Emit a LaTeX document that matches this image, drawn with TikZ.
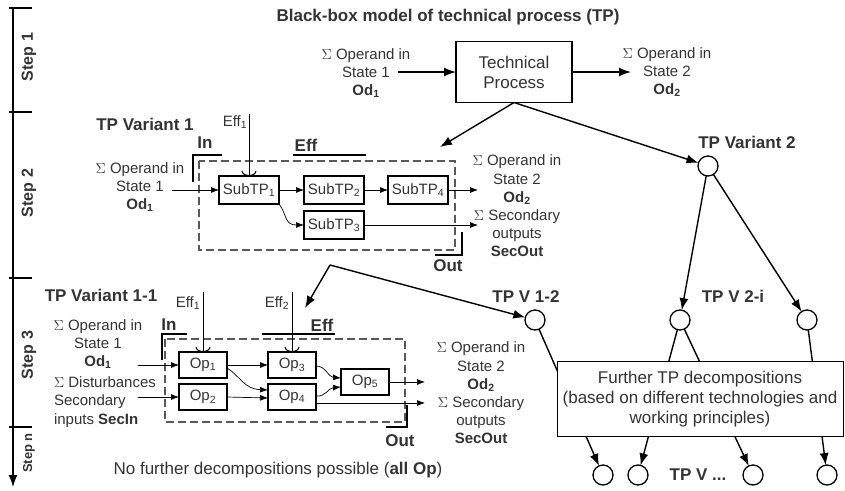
\documentclass[tikz,border=0pt]{standalone}
\usepackage{fontspec}
\setmainfont{Liberation Sans}
\usetikzlibrary{arrows.meta}

\begin{document}
\begin{tikzpicture}[x=1pt, y=-1pt,
  >={Latex[length=12pt,width=9pt]}, %
  inner sep=1pt, outer sep=0pt,%
  every node/.style={text=black!80, font=\fontsize{15}{18.2}\selectfont},
  title node/.style={font=\bfseries\fontsize{17}{19}\selectfont},
  big text/.style={font=\fontsize{17}{20}\selectfont},
  flow/.style={line width=1.4pt,->},
  thin flow/.style={line width=0.7pt,-{Latex[length=8pt,width=6pt]}},
  effect/.style={line width=0.7pt,-{Arc Barb[length=5pt,width=15pt,line width=1pt]}},
  process/.style={draw=black,line width=1.6pt,minimum width=116pt,minimum height=61pt,align=center,big text},
  subprocess/.style={draw=black,line width=1.3pt,minimum width=60pt,minimum height=28pt},
  operation/.style={draw=black,line width=1.3pt,minimum width=48pt,minimum height=26pt},
  variant/.style={circle,draw=black,line width=1.3pt,minimum size=20pt},
  system border/.style={draw=black!65,line width=1.1pt,dash pattern=on 8pt off 4pt},
  bracket/.style={line width=1.8pt}]

\useasboundingbox (0,0) rectangle (845,490);

\draw[line width=1.3pt,->] (13,8) -- (13,487);
\draw[line width=2pt] (9,8) -- (32,8);
\draw[line width=2pt] (9,112) -- (32,112);
\draw[line width=2pt] (9,278) -- (32,278);
\draw[line width=2pt] (9,427) -- (32,427);

\node[title node,font=\bfseries\fontsize{16}{18}\selectfont,rotate=90] (step 1) at (29,57) {Step 1};
\node[title node,font=\bfseries\fontsize{16}{18}\selectfont,rotate=90] (step 2) at (29,193) {Step 2};
\node[title node,font=\bfseries\fontsize{16}{18}\selectfont,rotate=90] (step 3) at (29,355) {Step 3};
\node[rotate=90,font=\bfseries\fontsize{13}{15}\selectfont] (step n) at (29,453) {Step n};

\node[title node] (title) at (448,17) {Black-box model of technical process (TP)};

\node[process] (tp) at (514,72) {Technical\\Process};
\node[align=center] (od1 a) at (366,73) {$\Sigma$ Operand in\\State 1\\\textbf{Od\textsubscript{1}}};
\node[align=center] (od2 a) at (667,72) {$\Sigma$ Operand in\\State 2\\\textbf{Od\textsubscript{2}}};
\coordinate (od1 a start) at (398,72);
\coordinate (od2 a end) at (631,72);
\draw[flow] (od1 a start) -- (tp.west);
\draw[flow] (tp.east) -- (od2 a end);

\coordinate (v1 tip) at (440,147);
\node[variant] (v2) at (708,166) {};
\node[title node] (v2 label) at (747,142) {TP Variant 2};
\draw[flow] (tp.south) -- (v1 tip);
\draw[flow] (tp.south) -- (v2);

\node[title node] (v1 label) at (145,124) {TP Variant 1};
\draw[system border] (199,161) rectangle (455,250);
\node[title node] (in b) at (205,143) {In};
\node[title node] (eff b) at (306,145) {Eff};
\node[title node] (out b) at (448,266) {Out};
\draw[bracket] (222,155) -- (193,155) -- (193,182);
\draw[bracket] (293,155) -- (366,155);
\draw[bracket] (435,255) -- (462,255) -- (462,232);

\node[subprocess] (s1) at (249,190) {SubTP\textsubscript{1}};
\node[subprocess] (s2) at (334,190) {SubTP\textsubscript{2}};
\node[subprocess] (s4) at (418,190) {SubTP\textsubscript{4}};
\node[subprocess] (s3) at (334,225) {SubTP\textsubscript{3}};

\node (eff1 b) at (235,122) {Eff\textsubscript{1}};
\coordinate (eff1 b top) at (249,114);
\draw[effect] (eff1 b top) -- (s1.north);

\node[align=center] (od1 b) at (140,187) {$\Sigma$ Operand in\\State 1\\\textbf{Od\textsubscript{1}}};
\node[align=center] (out text b) at (517,206) {$\Sigma$ Operand in\\State 2\\\textbf{Od\textsubscript{2}}\\$\Sigma$ Secondary\\outputs\\\textbf{SecOut}};
\coordinate (od1 b start) at (172,190);
\coordinate (od2 b end) at (478,190);
\coordinate (sec b end) at (478,225);

\draw[thin flow] (od1 b start) -- (s1.west);
\draw[thin flow] (s1.east) -- (s2.west);
\draw[thin flow] (s2.east) -- (s4.west);
\draw[thin flow] (s4.east) -- (od2 b end);
\draw[thin flow] (s1.south east) .. controls (287,214) and (284,225) .. (s3.west);
\draw[thin flow] (s3.east) -- (sec b end);

\coordinate (v1 split) at (330,265);
\coordinate (v11 tip) at (305,308);
\node[variant] (v12) at (535,320) {};
\node[title node] (v12 label) at (526,297) {TP V 1-2};
\draw[flow] (v1 split) -- (v11 tip);
\draw[flow] (v1 split) -- (v12);

\node[title node] (v11 label) at (101,295) {TP Variant 1-1};
\draw[system border] (165,339) rectangle (405,422);
\node[title node] (in c) at (169,325) {In};
\node[title node] (eff c) at (322,325) {Eff};
\node[title node] (out c) at (400,441) {Out};
\draw[bracket] (187,334) -- (162,334) -- (162,360);
\draw[bracket] (262,334) -- (335,334);
\draw[bracket] (386,427) -- (407,427) -- (407,405);

\node[operation] (op1) at (203,365) {Op\textsubscript{1}};
\node[operation] (op2) at (203,397) {Op\textsubscript{2}};
\node[operation] (op3) at (292,365) {Op\textsubscript{3}};
\node[operation] (op4) at (292,397) {Op\textsubscript{4}};
\node[operation] (op5) at (365,382) {Op\textsubscript{5}};

\node (eff1 c) at (188,303) {Eff\textsubscript{1}};
\node (eff2 c) at (277,303) {Eff\textsubscript{2}};
\coordinate (eff1 c top) at (203,292);
\coordinate (eff2 c top) at (292,292);
\draw[effect] (eff1 c top) -- (op1.north);
\draw[effect] (eff2 c top) -- (op3.north);

\node[align=center] (od1 c) at (98,344) {$\Sigma$ Operand in\\State 1\\\textbf{Od\textsubscript{1}}};
\node[align=left,anchor=west] (secin c) at (53,402) {$\Sigma$ Disturbances\\Secondary\\inputs \textbf{SecIn}};
\node[align=center] (out text c) at (481,393) {$\Sigma$ Operand in\\State 2\\\textbf{Od\textsubscript{2}}\\$\Sigma$ Secondary\\outputs\\\textbf{SecOut}};
\coordinate (od1 c start) at (138,365);
\coordinate (secin c start) at (138,397);
\coordinate (od2 c end) at (425,382);
\coordinate (sec c end) at (425,403);

\draw[thin flow] (od1 c start) -- (op1.west);
\draw[thin flow] (secin c start) -- (op2.west);
\draw[thin flow] (op1.east) -- (op3.west);
\draw[thin flow] ([yshift=-3pt]op1.east) .. controls (240,376) and (244,389) .. ([yshift=7pt]op4.west);
\draw[thin flow] (op2.east) -- ([yshift=-1pt]op4.west);
\draw[thin flow] ([yshift=-1pt]op3.east) .. controls (326,366) and (328,377) .. ([yshift=4pt]op5.west);
\draw[thin flow] ([yshift=1pt]op4.east) .. controls (326,397) and (328,388) .. ([yshift=-5pt]op5.west);
\draw[thin flow] (op5.east) -- (od2 c end);
\draw[thin flow] ([yshift=-6pt]op4.east) -- (sec c end);

\node[big text] (no further) at (278,470) {No further decompositions possible (\textbf{all Op})};

\node[variant] (v2i) at (680,320) {};
\node[variant] (v2j) at (807,320) {};
\node[title node] (v2i label) at (733,296) {TP V 2-i};
\draw[flow] (v2) -- (v2i);
\draw[flow] (v2) -- (v2j);

\node[variant] (b1) at (603,475) {};
\node[variant] (b2) at (638,475) {};
\node[variant] (b3) at (753,475) {};
\node[variant] (b4) at (827,475) {};
\node[title node] (b label) at (698,475) {TP V ...};

\draw[flow] (v12) -- (b1);
\draw[flow] (v2i) -- (b2);
\draw[flow] (v2i) -- (b3);
\draw[flow] (v2j) -- (b4);

\node[draw=black,fill=white,line width=1pt,minimum width=286pt,minimum height=75pt,align=center,big text] (further) at (700,399) {Further TP decompositions\\(based on different technologies and\\working principles)};

\end{tikzpicture}
\end{document}
